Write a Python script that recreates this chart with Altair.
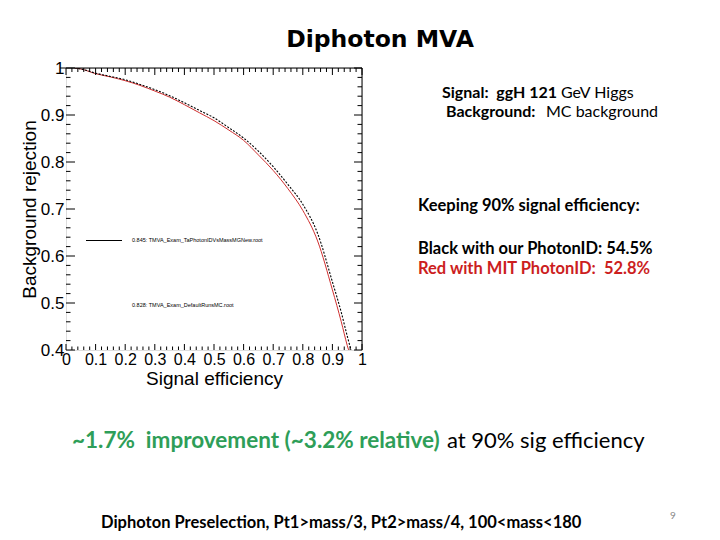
import altair as alt
import pandas as pd

# ---------------- data ----------------
sig_eff = [0.03, 0.05, 0.10, 0.15, 0.20, 0.25, 0.30, 0.35, 0.40, 0.45, 0.50,
           0.55, 0.60, 0.65, 0.70, 0.75, 0.80, 0.85, 0.90, 0.93, 0.95, 0.965]
bkg_rej_ours = [1.000, 0.998, 0.989, 0.982, 0.975, 0.965, 0.954, 0.941, 0.926,
                0.910, 0.894, 0.873, 0.851, 0.823, 0.790, 0.752, 0.710, 0.648,
                0.545, 0.480, 0.430, 0.395]
bkg_rej_mit = [1.000, 0.998, 0.988, 0.981, 0.973, 0.963, 0.951, 0.938, 0.922,
               0.905, 0.888, 0.868, 0.846, 0.815, 0.782, 0.743, 0.697, 0.632,
               0.528, 0.460, 0.410, 0.380]

x_major = [0.0, 0.1, 0.2, 0.3, 0.4, 0.5, 0.6, 0.7, 0.8, 0.9, 1.0]
y_major = [0.4, 0.5, 0.6, 0.7, 0.8, 0.9, 1.0]
x_minor = [round(i * 0.02, 2) for i in range(51) if i % 5 != 0]
y_minor = [round(0.4 + i * 0.02, 2) for i in range(31) if i % 5 != 0]

NB = "\u00a0"
title_text = "Diphoton MVA"
x_title = "Signal efficiency"
y_title = "Background rejection"
legend_ours = "0.845: TMVA_Exam_TaPhotonIDVsMassMGNew.root"
legend_mit = "0.828: TMVA_Exam_DefaultRunsMC.root"
sig_bold = "Signal:" + NB + " ggH 121"
sig_norm = "GeV Higgs"
bkg_bold = "Background:"
bkg_norm = "MC background"
keep_text = "Keeping 90% signal efficiency:"
black_text = "Black with our PhotonID: 54.5%"
red_text = "Red with MIT PhotonID:" + NB + " 52.8%"
impr_green = "~1.7%" + NB + " improvement (~3.2% relative)"
impr_black = "at 90% sig efficiency"
presel_text = "Diphoton Preselection, Pt1>mass/3, Pt2>mass/4, 100<mass<180"
page_no = "9"

# ---------------- layout ----------------
W, H = 296, 282
OX, OY = 66, 68  # page position of plot origin


def px(x):
    return x - OX


def py(y):
    return y - OY


xs = alt.Scale(domain=[0, 1], nice=False, zero=False)
ys = alt.Scale(domain=[0.4, 1], nice=False, zero=False)

X_AXIS = alt.Axis(
    values=x_major, format="~g", ticks=False, domain=False, grid=False,
    labelFont="Liberation Sans", labelFontSize=16, labelColor="black",
    labelPadding=1, labelFlush=False, labelOverlap=False, title=x_title,
    titleFont="Liberation Sans", titleFontSize=19, titleFontWeight="normal",
    titleColor="black", titlePadding=2)
Y_AXIS = alt.Axis(
    values=y_major, format="~g", ticks=False, domain=False, grid=False,
    labelFont="Liberation Sans", labelFontSize=17, labelColor="black",
    labelPadding=2, labelFlush=False, labelOverlap=False, title=y_title,
    titleFont="Liberation Sans", titleFontSize=19, titleFontWeight="normal",
    titleColor="black", titlePadding=1)


def X(field):
    return alt.X(field, scale=xs, axis=X_AXIS, title=x_title)


def Y(field):
    return alt.Y(field, scale=ys, axis=Y_AXIS, title=y_title)


curves = pd.DataFrame({
    "eff": sig_eff * 2,
    "rej": bkg_rej_ours + bkg_rej_mit,
    "set": ["ours"] * len(sig_eff) + ["mit"] * len(sig_eff),
})

red_line = alt.Chart(curves[curves["set"] == "mit"]).mark_line(
    color="#d03030", strokeWidth=1, clip=True, interpolate="monotone"
).encode(x=X("eff:Q"), y=Y("rej:Q"))

black_line = alt.Chart(curves[curves["set"] == "ours"]).mark_line(
    color="black", strokeWidth=1.1, strokeDash=[2, 1.5], clip=True,
    interpolate="monotone"
).encode(x=X("eff:Q"), y=Y("rej:Q"))


def ticks_x(vals, top, length):
    df = pd.DataFrame({"v": vals})
    if top:
        return alt.Chart(df).mark_rule(color="black", strokeWidth=1).encode(
            x=X("v:Q"), y=alt.value(0), y2=alt.value(length))
    return alt.Chart(df).mark_rule(color="black", strokeWidth=1).encode(
        x=X("v:Q"), y=alt.value(H), y2=alt.value(H - length))


def ticks_y(vals, right, length):
    df = pd.DataFrame({"v": vals})
    if right:
        return alt.Chart(df).mark_rule(color="black", strokeWidth=1).encode(
            y=Y("v:Q"), x=alt.value(W), x2=alt.value(W - length))
    return alt.Chart(df).mark_rule(color="black", strokeWidth=1).encode(
        y=Y("v:Q"), x=alt.value(0), x2=alt.value(length))


tick_layers = [
    ticks_x(x_major, False, 6), ticks_x(x_minor, False, 3.5),
    ticks_x(x_major, True, 7), ticks_x(x_minor, True, 4),
    ticks_y(y_major, False, 9), ticks_y(y_minor, False, 4.5),
    ticks_y(y_major, True, 8), ticks_y(y_minor, True, 4.5),
]

one = pd.DataFrame({"a": [0]})
frame_top = alt.Chart(one).mark_rule(color="black", strokeWidth=1).encode(
    x=alt.value(-6), x2=alt.value(W), y=alt.value(0))
frame_right = alt.Chart(one).mark_rule(color="black", strokeWidth=1).encode(
    x=alt.value(W), y=alt.value(0), y2=alt.value(H))
legend_line = alt.Chart(one).mark_rule(color="black", strokeWidth=1).encode(
    x=alt.value(px(86)), x2=alt.value(px(122)), y=alt.value(py(240.5)))


def txt(s, x, y, size, font="Lato", weight="normal", color="black",
        align="left", baseline="alphabetic"):
    return alt.Chart(pd.DataFrame({"t": [s]})).mark_text(
        font=font, fontSize=size, fontWeight=weight, color=color,
        align=align, baseline=baseline
    ).encode(x=alt.value(px(x)), y=alt.value(py(y)), text="t:N")


texts = [
    txt(title_text, 380, 47, 23.5, font="DejaVu Sans", weight="bold",
        align="center"),
    txt(legend_ours, 132, 242, 5.5, font="Liberation Sans"),
    txt(legend_mit, 132, 307, 5.5, font="Liberation Sans"),
    txt(sig_bold, 442, 98, 16, weight="bold"),
    txt(sig_norm, 561, 98, 16),
    txt(bkg_bold, 446, 117, 16, weight="bold"),
    txt(bkg_norm, 546, 117, 16),
    txt(keep_text, 418, 211, 16.5, weight="bold"),
    txt(black_text, 418, 254, 16.5, weight="bold"),
    txt(red_text, 418, 274, 16.5, weight="bold", color="#cc1e1e"),
    txt(impr_green, 72, 448, 22.5, weight="bold", color="#2e9e58"),
    txt(impr_black, 447, 448, 22),
    txt(presel_text, 101, 528, 16.5, weight="bold"),
    txt(page_no, 673, 519, 10, color="#888888", align="center"),
]

chart = alt.layer(
    red_line, black_line, *tick_layers, frame_top, frame_right, legend_line,
    *texts
).properties(
    width=W, height=H,
    autosize=alt.AutoSizeParams(type="none"),
    padding={"left": OX - 8, "top": OY - 8,
             "right": 704 - (OX - 8) - W, "bottom": 524 - (OY - 8) - H},
).configure_view(stroke=None).configure(background="white")

chart.save("out.html", embed_options={"renderer": "svg", "actions": False})
